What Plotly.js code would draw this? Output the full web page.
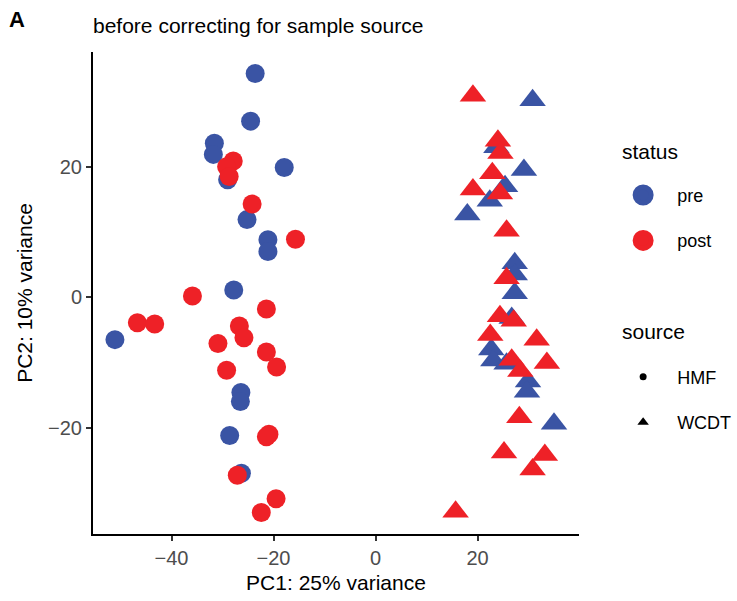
<!DOCTYPE html>
<html>
<head>
<meta charset="utf-8">
<script src="https://cdn.plot.ly/plotly-3.0.1.min.js"></script>
<style>html,body{margin:0;padding:0;background:#fff;}#chart{width:737px;height:601px;}</style>
</head>
<body>
<div id="chart"></div>
<script>
// ---- data ----
var preHMF_x  = [-23.6, -24.5, -31.6, -31.8, -29.0, -17.9, -25.2, -21.1, -21.1, -27.8, -51.1, -26.4, -26.5, -28.6, -26.3];
var preHMF_y  = [34.3, 27.0, 23.6, 21.9, 18.0, 19.9, 11.9, 8.8, 7.0, 1.1, -6.5, -14.6, -16.0, -21.2, -27.0];

var postHMF_x = [-27.9, -29.2, -28.7, -24.2, -15.7, -35.9, -46.7, -43.3, -21.4, -26.7, -25.8, -30.9, -21.4, -19.4, -29.2, -20.9, -21.4, -27.1, -19.5, -22.4];
var postHMF_y = [20.9, 20.0, 18.5, 14.3, 8.9, 0.2, -3.9, -4.1, -1.8, -4.4, -6.2, -7.1, -8.4, -10.7, -11.2, -21.0, -21.4, -27.3, -30.9, -33.0];

var preWCDT_x = [30.8, 23.7, 29.1, 25.4, 22.4, 18.0, 27.3, 27.3, 27.3, 26.7, 22.7, 23.1, 25.7, 29.9, 29.7, 35.0];
var preWCDT_y = [30.2, 23.0, 19.5, 17.0, 14.8, 12.7, 5.2, 3.5, 0.6, -3.2, -8.0, -9.7, -10.2, -12.9, -14.5, -19.4];

var postWCDT_x = [19.1, 24.0, 24.5, 22.9, 19.1, 24.4, 25.7, 25.7, 24.4, 27.1, 22.5, 31.6, 26.7, 33.6, 28.4, 28.2, 25.2, 33.2, 30.8, 15.7];
var postWCDT_y = [30.9, 24.0, 22.1, 19.0, 16.5, 15.9, 10.2, 2.9, -2.9, -3.6, -5.8, -6.5, -9.6, -10.1, -11.3, -18.4, -23.8, -24.2, -26.4, -32.9];

var statusLevels = ["pre", "post"];
var sourceLevels = ["HMF", "WCDT"];
var legendTitles = ["status", "source"];
var xTicks = [-40, -20, 0, 20];
var yTicks = [-20, 0, 20];

var titleText = "before correcting for sample source";
var xTitle = "PC1: 25% variance";
var yTitle = "PC2: 10% variance";
var panelLabel = "A";

// ---- styles ----
var BLUE = "#3A54A4";
var RED  = "#EE2127";
var FONT = "Liberation Sans, Arial, Helvetica, sans-serif";
var CIRCLE = 19, TRI = 23;

function pts(x, y, color, symbol, size) {
  return {
    type: "scatter", mode: "markers", x: x, y: y,
    marker: {color: color, symbol: symbol, size: size, line: {width: 0}},
    showlegend: false, hoverinfo: "x+y"
  };
}

var data = [
  pts(preHMF_x, preHMF_y, BLUE, "circle", CIRCLE),
  pts(preWCDT_x, preWCDT_y, BLUE, "triangle-up", TRI),
  pts(postHMF_x, postHMF_y, RED, "circle", CIRCLE),
  pts(postWCDT_x, postWCDT_y, RED, "triangle-up", TRI),
  // legend keys
  {type:"scatter", mode:"markers", x:[null], y:[null], name: statusLevels[0], legend:"legend", legendgroup:"s1",
   marker:{color:BLUE, symbol:"circle", size:16, line:{width:5, color:BLUE}}},
  {type:"scatter", mode:"markers", x:[null], y:[null], name: statusLevels[1], legend:"legend", legendgroup:"s2",
   marker:{color:RED, symbol:"circle", size:16, line:{width:5, color:RED}}},
  {type:"scatter", mode:"markers", x:[null], y:[null], name: sourceLevels[0], legend:"legend2", legendgroup:"c1",
   marker:{color:"#000", symbol:"circle", size:7, line:{width:0}}},
  {type:"scatter", mode:"markers", x:[null], y:[null], name: sourceLevels[1], legend:"legend2", legendgroup:"c2",
   marker:{color:"#000", symbol:"triangle-up", size:10, line:{width:0}}}
];

var legendCommon = {
  xanchor: "left", yanchor: "top",
  bgcolor: "rgba(0,0,0,0)", borderwidth: 0,
  font: {family: FONT, size: 18, color: "#000"},
  traceorder: "grouped", tracegroupgap: 19, itemsizing: "trace", itemwidth: 58
};

var layout = {
  width: 737, height: 601,
  margin: {l: 93, r: 158, t: 52, b: 67, autoexpand: false},
  paper_bgcolor: "#fff", plot_bgcolor: "#fff",
  font: {family: FONT, color: "#000"},
  title: {
    text: titleText, font: {family: FONT, size: 21, color: "#000"},
    xref: "paper", x: 0, xanchor: "left",
    yref: "container", y: 0.958, yanchor: "middle", pad: {l: 0, r: 0, t: 0, b: 0}
  },
  xaxis: {
    range: [-55.4, 39.9], tickvals: xTicks, showgrid: false, zeroline: false,
    showline: true, linecolor: "#000", linewidth: 2,
    ticks: "outside", ticklen: 5, tickwidth: 2, tickcolor: "#333",
    tickfont: {family: FONT, size: 20, color: "#4D4D4D"},
    title: {text: xTitle, font: {family: FONT, size: 21, color: "#000"}, standoff: 7},
    automargin: false
  },
  yaxis: {
    range: [-36.3, 37.6], tickvals: yTicks, showgrid: false, zeroline: false,
    showline: true, linecolor: "#000", linewidth: 2,
    ticks: "outside", ticklen: 5, tickwidth: 2, tickcolor: "#333",
    tickfont: {family: FONT, size: 20, color: "#4D4D4D"},
    title: {text: yTitle, font: {family: FONT, size: 21, color: "#000"}, standoff: 10},
    automargin: false
  },
  legend: Object.assign({}, legendCommon, {x: 1.062, y: 0.741}),
  legend2: Object.assign({}, legendCommon, {x: 1.062, y: 0.364}),
  annotations: [
    {text: "<b>" + panelLabel + "</b>", showarrow: false,
     xref: "paper", yref: "paper", x: -0.177, y: 1.068, xanchor: "left", yanchor: "middle",
     font: {family: FONT, size: 22, color: "#000"}},
    {text: legendTitles[0], showarrow: false,
     xref: "paper", yref: "paper", x: 1.084, y: 0.794, xanchor: "left", yanchor: "middle",
     font: {family: FONT, size: 21, color: "#000"}},
    {text: legendTitles[1], showarrow: false,
     xref: "paper", yref: "paper", x: 1.084, y: 0.421, xanchor: "left", yanchor: "middle",
     font: {family: FONT, size: 21, color: "#000"}}
  ]
};

Plotly.newPlot("chart", data, layout, {displayModeBar: false, staticPlot: true});
</script>
</body>
</html>
